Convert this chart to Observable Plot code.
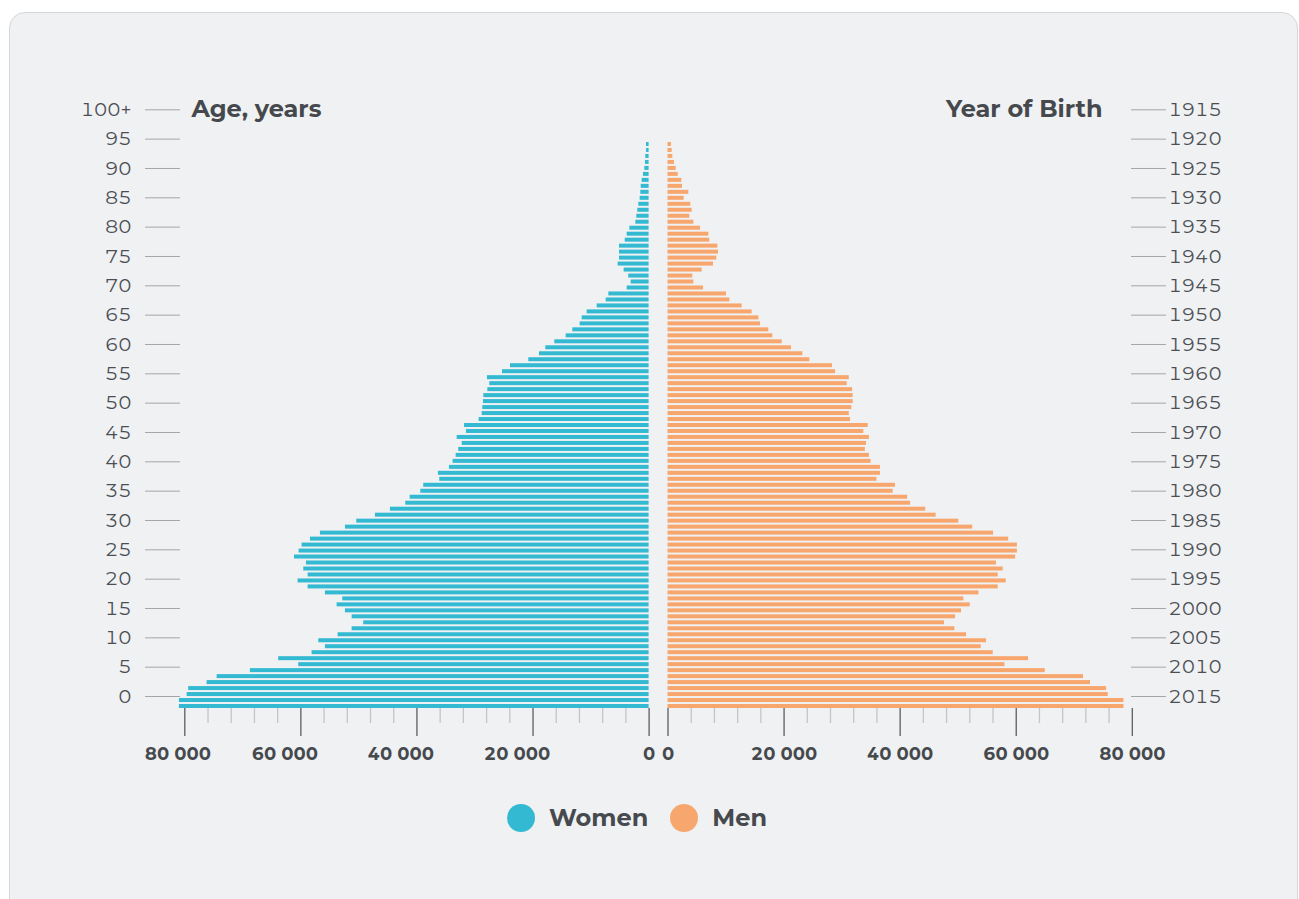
<!DOCTYPE html>
<html>
<head>
<meta charset="utf-8">
<script src="https://cdn.jsdelivr.net/npm/d3@7"></script>
<script src="https://cdn.jsdelivr.net/npm/@observablehq/plot@0.6"></script>
<style>
  html, body { margin: 0; padding: 0; background: #ffffff; }
  body { width: 1299px; height: 899px; overflow: hidden; position: relative; font-family: Montserrat, Inter, "Open Sans", sans-serif; }
  #card { position: absolute; left: 9px; top: 12px; width: 1287px; height: 900px; background: #f0f1f3; border: 1px solid #d4d6d9; border-radius: 16px; }
  .layer { position: absolute; top: 0; }
  .layer svg { max-width: none; overflow: visible; }
  #legend { position: absolute; top: 803px; left: 507px; display: flex; align-items: center; font-weight: 700; font-size: 24px; color: #464a4e; }
  #legend .dot { width: 28px; height: 28px; border-radius: 50%; display: inline-block; }
  #legend .lab { margin-left: 14px; margin-right: 22px; }
</style>
</head>
<body>
<div id="card"></div>
<div id="axes" class="layer" style="left:0"></div>
<div id="left" class="layer" style="left:0"></div>
<div id="right" class="layer" style="left:660px"></div>
<div id="legend"></div>
<script>
// ---- data (thousands of people), index = age 0 .. 94 ----
const ages = d3.range(0, 95);
const women = [80.93, 80.93, 79.6, 79.33, 76.16, 74.43, 68.7, 60.37, 63.82, 58.07,
  55.77, 56.92, 53.58, 51.17, 49.17, 51.17, 52.32, 53.76, 52.78, 55.77,
  58.75, 60.48, 58.75, 59.5, 59.04, 61.1, 60.3, 59.79, 58.35, 56.63,
  52.32, 50.37, 47.15, 44.57, 41.93, 41.17, 39.34, 38.83, 36.07, 36.3,
  34.4, 33.77, 33.25, 32.8, 32.2, 33.07, 31.47, 31.8, 29.28, 28.77,
  28.66, 28.54, 28.48, 27.79, 27.45, 27.85, 25.26, 23.88, 20.73, 18.89,
  17.8, 16.25, 14.29, 13.15, 11.88, 11.53, 10.67, 8.95, 7.4, 6.94,
  3.78, 3.09, 3.5, 4.3, 5.33, 5.1, 5.1, 5.1, 4.12, 3.78,
  3.32, 2.29, 2.12, 1.95, 1.77, 1.54, 1.43, 1.36, 1.19, 0.97,
  0.74, 0.62, 0.57, 0.45, 0.45];
const men = [78.56, 78.56, 75.86, 75.57, 72.8, 71.6, 65.0, 58.05, 62.13, 56.04,
  53.97, 54.89, 51.44, 49.43, 47.65, 49.55, 50.58, 52.08, 50.98, 53.57,
  56.9, 58.28, 56.9, 57.76, 56.6, 59.9, 60.2, 60.2, 58.7, 56.1,
  52.5, 50.1, 46.2, 44.4, 41.8, 41.3, 38.8, 39.2, 36.0, 36.6,
  36.6, 35.0, 34.7, 34.0, 34.2, 34.7, 33.74, 34.5, 31.45, 31.23,
  31.67, 31.91, 31.91, 31.8, 30.88, 31.23, 28.87, 28.35, 24.44, 23.23,
  21.28, 19.68, 18.06, 17.37, 15.94, 15.65, 14.5, 12.78, 10.65, 10.08,
  6.12, 4.45, 4.28, 5.89, 7.84, 8.41, 8.7, 8.59, 7.2, 7.04,
  5.6, 4.45, 3.76, 4.17, 3.93, 2.79, 3.59, 2.5, 2.38, 1.76,
  1.41, 1.12, 0.83, 0.72, 0.6];
const ageTicks = d3.range(0, 101, 5);
const birthYearOfAgeZero = 2015;
const xMajorTicks = [0, 20000, 40000, 60000, 80000];
const xMinorTicks = d3.range(0, 80001, 4000).filter(v => v % 20000 !== 0);
const seriesNames = ["Women", "Men"];
const seriesColors = ["#33bad2", "#f7a76e"];
const ageTitle = "Age, years";
const yearTitle = "Year of Birth";

// ---- tables ----
const womenRows = ages.map((a, i) => ({age: a, value: women[i] * 1000}));
const menRows = ages.map((a, i) => ({age: a, value: men[i] * 1000}));

const textColor = "#45494d";
const fmt = d => d3.format(",")(d).replace(/,/g, " ");
const H = 790;
const yBand = {type: "band", domain: ages.slice().reverse(), paddingInner: 0.331, paddingOuter: 0, round: false, axis: null};
const labelStyle = {tickSize: 0, tickPadding: 39, tickFormat: fmt, fill: textColor, fontSize: 17.5, fontWeight: 700, label: null};

function tickLines() {
  return [
    Plot.axisX({ticks: xMinorTicks, tickSize: 15, tickFormat: () => "", stroke: "#c3c5c8", strokeWidth: 1.3, label: null}),
    Plot.axisX({ticks: xMajorTicks, tickSize: 28, tickFormat: () => "", stroke: "#5a5e62", strokeWidth: 1.3, label: null})
  ];
}

const leftPlot = Plot.plot({
  width: 660, height: H,
  marginLeft: 184.3, marginRight: 11.4, marginTop: 142, marginBottom: H - 708,
  style: {background: "transparent", overflow: "visible", fontFamily: "Montserrat, Inter, sans-serif", color: textColor},
  x: {domain: [0, 80000], reverse: true, label: null},
  y: yBand,
  marks: [
    Plot.barX(womenRows, {x: "value", y: "age", fill: seriesColors[0]}),
    ...tickLines(),
    Plot.axisX({...labelStyle, ticks: xMajorTicks.filter(v => v === 0)}),
    Plot.axisX({...labelStyle, ticks: xMajorTicks.filter(v => v === 80000), dx: -7}),
    Plot.axisX({...labelStyle, ticks: xMajorTicks.filter(v => v > 0 && v < 80000), dx: -16})
  ]
});
document.getElementById("left").append(leftPlot);

const rightPlot = Plot.plot({
  width: 639, height: H,
  marginLeft: 7.5, marginRight: 167.2, marginTop: 142, marginBottom: H - 708,
  style: {background: "transparent", overflow: "visible", fontFamily: "Montserrat, Inter, sans-serif", color: textColor},
  x: {domain: [0, 80000], label: null},
  y: yBand,
  marks: [
    Plot.barX(menRows, {x: "value", y: "age", fill: seriesColors[1]}),
    ...tickLines(),
    Plot.axisX({...labelStyle, ticks: xMajorTicks})
  ]
});
document.getElementById("right").append(rightPlot);

const axesPlot = Plot.plot({
  width: 1299, height: H,
  marginLeft: 180, marginRight: 169, marginTop: 109.3, marginBottom: H - 696,
  style: {background: "transparent", overflow: "visible", fontFamily: "Montserrat, Inter, sans-serif", fontSize: "19px", color: "#4b4f53"},
  x: {domain: [0, 1], axis: null},
  y: {domain: [0, 100], axis: null},
  marks: [
    Plot.axisY({anchor: "left", ticks: ageTicks, tickSize: 35, tickPadding: 14, label: null,
      tickFormat: d => d === 100 ? "100+" : String(d), stroke: "#a3a6a9", fill: "#4b4f53", fontSize: 19}),
    Plot.axisY({anchor: "right", ticks: ageTicks, tickSize: 35, tickPadding: 3, label: null,
      tickFormat: d => String(birthYearOfAgeZero - d), stroke: "#a3a6a9", fill: "#4b4f53", fontSize: 19}),
    Plot.text([ageTitle], {text: d => d, frameAnchor: "top-left", dx: 11, textAnchor: "start", lineAnchor: "middle",
      fontSize: 24, fontWeight: 700, fill: textColor}),
    Plot.text([yearTitle], {text: d => d, frameAnchor: "top-right", dx: -28, textAnchor: "end", lineAnchor: "middle",
      fontSize: 24, fontWeight: 700, fill: textColor})
  ]
});
document.getElementById("axes").append(axesPlot);

// ---- legend ----
const legend = document.getElementById("legend");
seriesNames.forEach((name, i) => {
  const dot = document.createElement("span");
  dot.className = "dot";
  dot.style.background = seriesColors[i];
  const lab = document.createElement("span");
  lab.className = "lab";
  lab.textContent = name;
  legend.append(dot, lab);
});
</script>
</body>
</html>
